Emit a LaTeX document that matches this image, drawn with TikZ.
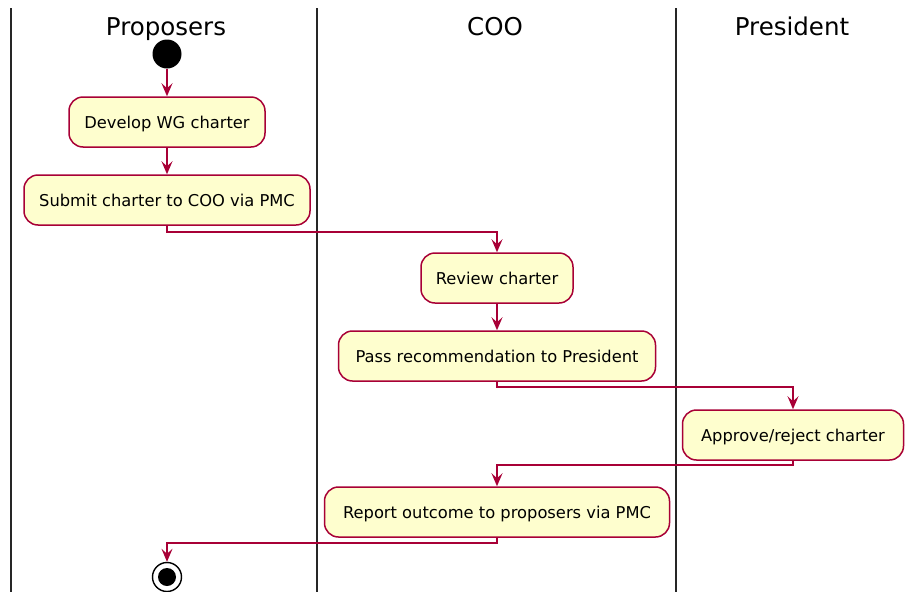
\documentclass[tikz,border=0pt]{standalone}
\usepackage{fontspec}
\setmainfont{DejaVu Sans}
\usetikzlibrary{arrows.meta}
\definecolor{actborder}{HTML}{A80036}
\definecolor{actfill}{HTML}{FEFECE}
\tikzset{
  lane/.style={line width=1.8pt, black!85},
  lanetitle/.style={font=\fontsize{24.5}{28}\selectfont, text=black, anchor=base},
  activity/.style={draw=actborder, fill=actfill, line width=1.5pt,
    rounded corners=14pt, minimum height=50pt, inner sep=0pt,
    text height=13.5pt, text depth=1.5pt,
    font=\fontsize{16.3}{19}\selectfont, text=black},
  flow/.style={draw=actborder, line width=1.3pt,
    -{Stealth[length=13pt, width=11pt, inset=5pt]}},
  startdot/.style={circle, fill=black, minimum size=29pt, inner sep=0pt},
  enddot/.style={circle, draw=black, line width=1.4pt, fill=white,
    minimum size=29pt, inner sep=0pt},
}
\begin{document}
\begin{tikzpicture}[x=1pt, y=-1pt]
  \useasboundingbox (0,0) rectangle (906,592);

  % swimlane separators
  \draw[lane] (11,8) -- (11,592);
  \draw[lane] (317,8) -- (317,592);
  \draw[lane] (676,8) -- (676,592);

  % swimlane headings
  \node[lanetitle] (hprop) at (166,35) {Proposers};
  \node[lanetitle] (hcoo) at (495,35) {COO};
  \node[lanetitle] (hpres) at (792,35) {President};

  % activities
  \node[startdot] (start) at (167,54) {};
  \node[activity, minimum width=196pt] (develop) at (167,122) {Develop WG charter};
  \node[activity, minimum width=286pt] (submit) at (167,200) {Submit charter to COO via PMC};
  \node[activity, minimum width=152pt] (review) at (497,278) {Review charter};
  \node[activity, minimum width=317pt] (pass) at (497,356) {Pass recommendation to President};
  \node[activity, minimum width=221pt] (approve) at (793,435) {Approve/reject charter};
  \node[activity, minimum width=345pt] (report) at (497,512) {Report outcome to proposers via PMC};
  \node[enddot] (stop) at (167,577) {};
  \fill (stop.center) circle (9pt);

  % bends of the cross-lane flows
  \coordinate (b1) at (167,232);
  \coordinate (b2) at (497,387);
  \coordinate (b3) at (793,465);
  \coordinate (b4) at (497,543);

  % control flow
  \draw[flow] (start) -- (develop);
  \draw[flow] (develop) -- (submit);
  \draw[flow] (submit.south) -- (b1) -| (review.north);
  \draw[flow] (review) -- (pass);
  \draw[flow] (pass.south) -- (b2) -| (approve.north);
  \draw[flow] (approve.south) -- (b3) -| (report.north);
  \draw[flow] (report.south) -- (b4) -| (stop.north);
\end{tikzpicture}
\end{document}
